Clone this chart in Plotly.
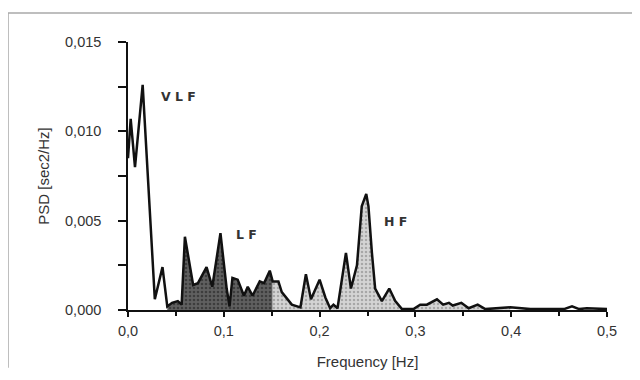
import plotly.graph_objects as go

# Frequency (Hz) and PSD (sec2/Hz)
freq = [0.000, 0.0028, 0.0073, 0.0153, 0.028, 0.036, 0.041, 0.046, 0.052, 0.056,
        0.0594, 0.068, 0.073, 0.082, 0.088, 0.0965, 0.103, 0.106, 0.109, 0.1145,
        0.121, 0.125, 0.130, 0.1375, 0.142, 0.148, 0.151, 0.157, 0.1605, 0.166,
        0.171, 0.180, 0.1857, 0.191, 0.200, 0.206, 0.211, 0.2145, 0.2187, 0.2275,
        0.2327, 0.239, 0.244, 0.2487, 0.251, 0.2546, 0.258, 0.265, 0.2727, 0.279,
        0.286, 0.298, 0.305, 0.312, 0.3225, 0.329, 0.335, 0.339, 0.348, 0.3556,
        0.365, 0.373, 0.385, 0.399, 0.420, 0.455, 0.4635, 0.471, 0.479, 0.500]
psd = [0.0085, 0.0107, 0.0080, 0.0126, 0.0006, 0.0024, 0.0002, 0.0004, 0.0005, 0.0003,
       0.0041, 0.0014, 0.0015, 0.0024, 0.0013, 0.0043, 0.0012, 0.0002, 0.0018, 0.0017,
       0.0008, 0.0013, 0.0008, 0.0016, 0.0015, 0.0022, 0.0016, 0.0016, 0.0010, 0.0006,
       0.0003, 0.00015, 0.0020, 0.0006, 0.0017, 0.0007, 0.0001, 0.0003, 0.0001, 0.0032,
       0.0012, 0.0025, 0.0058, 0.0065, 0.0058, 0.0032, 0.0012, 0.0005, 0.0012, 0.0005,
       0.00005, 0.00005, 0.0003, 0.0003, 0.0006, 0.0003, 0.0004, 0.00025, 0.0004, 0.0001,
       0.0003, 0.00005, 0.0001, 0.00015, 0.00005, 0.00005, 0.0002, 0.00005, 0.0001, 0.00005]

# Band limits (Hz)
lf_band = [0.041, 0.151]
hf_band = [0.151, 0.399]

band_labels = ["V L F", "L F", "H F"]
label_freq = [0.0522, 0.1233, 0.279]
label_psd = [0.01195, 0.0042, 0.00495]

x_ticks = [0.0, 0.1, 0.2, 0.3, 0.4, 0.5]
y_ticks = [0.000, 0.005, 0.010, 0.015]


def band(lo, hi):
    pts = [(f, v) for f, v in zip(freq, psd) if lo <= f <= hi]
    return [p[0] for p in pts], [p[1] for p in pts]


lf_x, lf_y = band(*lf_band)
hf_x, hf_y = band(*hf_band)

fig = go.Figure()
fig.add_trace(go.Scatter(
    x=lf_x, y=lf_y, mode="none", fill="tozeroy", fillcolor="#4a4a4a",
    fillpattern=dict(shape=".", fgcolor="#1a1a1a", bgcolor="#606060", size=4, solidity=0.35),
    hoverinfo="skip"))
fig.add_trace(go.Scatter(
    x=hf_x, y=hf_y, mode="none", fill="tozeroy", fillcolor="#c4c4c4",
    fillpattern=dict(shape=".", fgcolor="#7a7a7a", bgcolor="#d4d4d4", size=4, solidity=0.3),
    hoverinfo="skip"))
fig.add_trace(go.Scatter(
    x=freq, y=psd, mode="lines", line=dict(color="#111111", width=2.5),
    hoverinfo="skip"))

for t, fx, fy in zip(band_labels, label_freq, label_psd):
    fig.add_annotation(x=fx, y=fy, text="<b>" + t + "</b>", showarrow=False,
                       font=dict(family="DejaVu Sans", size=12.5, color="#333333"),
                       xanchor="center", yanchor="middle")

# page has an 8px body margin; the figure is sized/offset to compensate
W, H = 632, 372
L, R, T, B = 120, 33, 34, 60
pw, ph = W - L - R, H - T - B
px = lambda p: (p - L) / pw
py = lambda p: (H - B - p) / ph
fig.add_shape(type="line", xref="paper", yref="paper", x0=px(0), x1=px(W), y0=py(4), y1=py(4),
              line=dict(color="#a8a8a8", width=1.5))
fig.add_shape(type="line", xref="paper", yref="paper", x0=px(0), x1=px(0), y0=py(4), y1=py(H),
              line=dict(color="#a8a8a8", width=1.5))

fig.update_layout(
    width=W, height=H,
    margin=dict(l=L, r=R, t=T, b=B),
    paper_bgcolor="white", plot_bgcolor="white",
    showlegend=False,
    separators=",.",
    font=dict(family="Liberation Sans", size=14.5, color="#333333"),
    xaxis=dict(range=[0, 0.5], tickvals=x_ticks, tickformat=".1f",
               showline=True, linecolor="#111111", linewidth=1.5,
               ticks="outside", ticklen=5, tickwidth=1.5, tickcolor="#111111",
               ticklabelstandoff=2,
               minor=dict(dtick=0.05, ticks="outside", ticklen=4, tickwidth=1.5, tickcolor="#111111"),
               showgrid=False, zeroline=False,
               title=dict(text="Frequency [Hz]", font=dict(size=15, color="#333333"), standoff=18)),
    yaxis=dict(range=[0, 0.015], tickvals=y_ticks, tickformat=".3f",
               showline=True, linecolor="#111111", linewidth=1.5,
               ticks="outside", ticklen=8, tickwidth=1.5, tickcolor="#111111",
               ticklabelstandoff=14,
               minor=dict(dtick=0.0025, ticks="outside", ticklen=8, tickwidth=1.5, tickcolor="#111111"),
               showgrid=False, zeroline=False,
               title=dict(text="PSD [sec2/Hz]", font=dict(size=15, color="#333333"), standoff=12)),
)

fig.write_html("out.html")
